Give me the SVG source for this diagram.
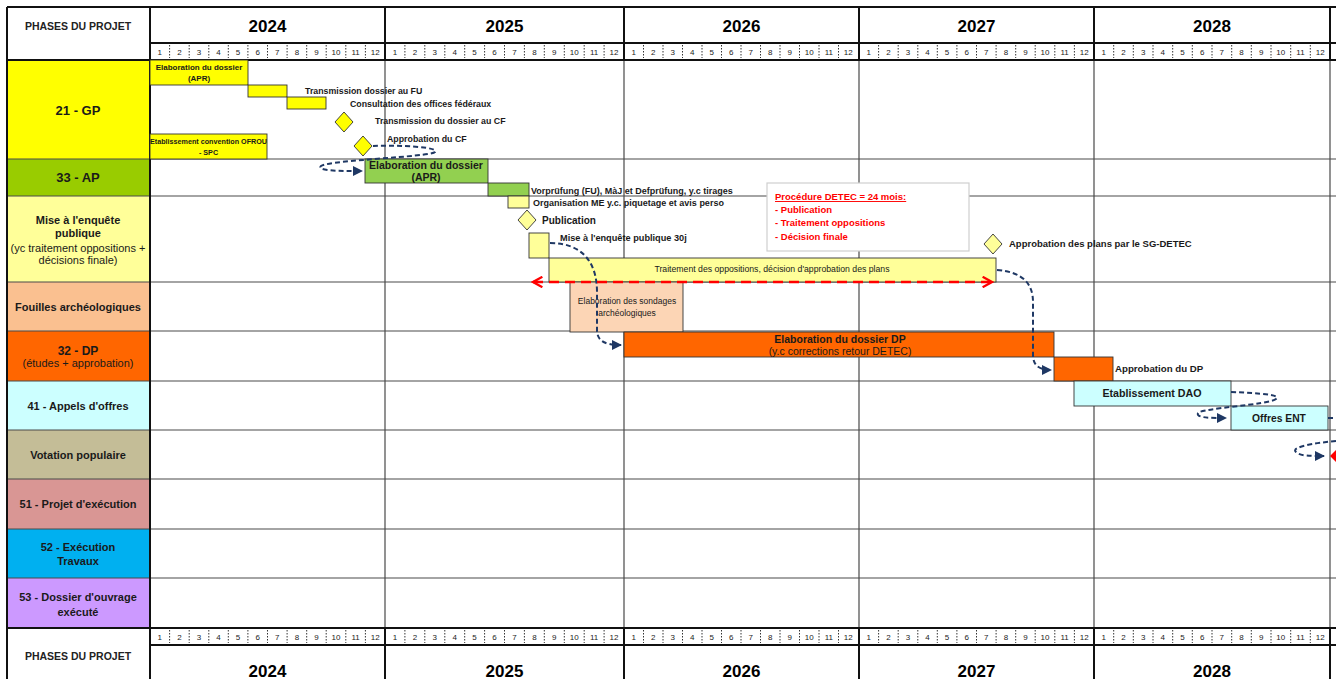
<svg xmlns="http://www.w3.org/2000/svg" width="1336" height="679" viewBox="0 0 1336 679">
<style>
text{font-family:"Liberation Sans",Arial,sans-serif;fill:#1a1a1a}
.lbl{font-size:11px;font-weight:bold;text-anchor:middle}
.big{font-size:13px}
.sub{font-weight:normal}
.yr{font-size:17px;font-weight:bold;text-anchor:middle;fill:#000}
.mo{font-size:8px;text-anchor:middle;fill:#222}
.hd{font-size:10.5px;font-weight:bold;text-anchor:middle;fill:#222}
.bt{font-size:8.8px;font-weight:bold}
.bc{text-anchor:middle}
.red{fill:#FF0000;font-size:9.5px;font-weight:bold}
.grid{stroke:#4a4a4a;stroke-width:1.2;fill:none}
.thick{stroke:#111;stroke-width:2;fill:none}
.sep{stroke:#333;stroke-width:1;stroke-dasharray:1.5 1.5;fill:none}
.bar{stroke:#333;stroke-width:0.9}
.conn{fill:none;stroke:#1F3864;stroke-width:2;stroke-dasharray:5 3}
</style>
<defs>
<marker id="ah" viewBox="0 0 10 10" refX="9" refY="5" markerWidth="5" markerHeight="5" orient="auto" markerUnits="strokeWidth">
<path d="M0,0 L10,5 L0,10 z" fill="#1F3864"/>
</marker>
<marker id="rh" viewBox="0 0 12 12" refX="10" refY="6" markerWidth="5" markerHeight="5" orient="auto-start-reverse" markerUnits="strokeWidth">
<path d="M1,1 L10,6 L1,11" fill="none" stroke="#FF0000" stroke-width="2.2"/>
</marker>
</defs>
<rect width="1336" height="679" fill="#fff"/>

<!-- left column cells -->
<g id="phase-cells">
<rect x="7" y="60" width="143" height="99" fill="#FFFF00"/>
<rect x="7" y="159" width="143" height="37" fill="#99CC00"/>
<rect x="7" y="196" width="143" height="86" fill="#FFFF99"/>
<rect x="7" y="282" width="143" height="49" fill="#FAC090"/>
<rect x="7" y="331" width="143" height="50" fill="#FF6600"/>
<rect x="7" y="381" width="143" height="49" fill="#CCFFFF"/>
<rect x="7" y="430" width="143" height="49" fill="#C4BD97"/>
<rect x="7" y="479" width="143" height="50" fill="#D99694"/>
<rect x="7" y="529" width="143" height="49" fill="#00B0F0"/>
<rect x="7" y="578" width="143" height="50" fill="#CC99FF"/>
</g>

<!-- grid -->
<g id="grid">
<path class="grid" d="M7 159H1336 M7 196H1336 M7 282H1336 M7 331H1336 M7 381H1336 M7 430H1336 M7 479H1336 M7 529H1336 M7 578H1336"/>
<path class="grid" d="M385 60V628 M624 60V628 M859 60V628 M1094 60V628 M1330 60V628"/>
<path class="thick" d="M7 7H1336 M150 43H1336 M7 60H1336 M7 7V679 M150 7V679 M385 7V60 M624 7V60 M859 7V60 M1094 7V60 M1330 7V60"/>
<path class="thick" d="M7 628H1336 M150 645H1336 M385 628V679 M624 628V679 M859 628V679 M1094 628V679 M1330 628V679"/>
<path class="sep" d="M169.6 45v13M189.2 45v13M208.8 45v13M228.3 45v13M247.9 45v13M267.5 45v13M287.1 45v13M306.7 45v13M326.2 45v13M345.8 45v13M365.4 45v13M404.9 45v13M424.8 45v13M444.8 45v13M464.7 45v13M484.6 45v13M504.5 45v13M524.4 45v13M544.3 45v13M564.3 45v13M584.2 45v13M604.1 45v13M643.5 45v13M663 45v13M682.5 45v13M702 45v13M721.5 45v13M741 45v13M760.5 45v13M780 45v13M799.5 45v13M819 45v13M838.5 45v13M878.6 45v13M898.2 45v13M917.8 45v13M937.3 45v13M956.9 45v13M976.5 45v13M996.1 45v13M1015.7 45v13M1035.2 45v13M1054.8 45v13M1074.4 45v13M1113.7 45v13M1133.3 45v13M1153 45v13M1172.7 45v13M1192.3 45v13M1212 45v13M1231.7 45v13M1251.3 45v13M1271 45v13M1290.7 45v13M1310.3 45v13"/>
<path class="sep" d="M169.6 630v13M189.2 630v13M208.8 630v13M228.3 630v13M247.9 630v13M267.5 630v13M287.1 630v13M306.7 630v13M326.2 630v13M345.8 630v13M365.4 630v13M404.9 630v13M424.8 630v13M444.8 630v13M464.7 630v13M484.6 630v13M504.5 630v13M524.4 630v13M544.3 630v13M564.3 630v13M584.2 630v13M604.1 630v13M643.5 630v13M663 630v13M682.5 630v13M702 630v13M721.5 630v13M741 630v13M760.5 630v13M780 630v13M799.5 630v13M819 630v13M838.5 630v13M878.6 630v13M898.2 630v13M917.8 630v13M937.3 630v13M956.9 630v13M976.5 630v13M996.1 630v13M1015.7 630v13M1035.2 630v13M1054.8 630v13M1074.4 630v13M1113.7 630v13M1133.3 630v13M1153 630v13M1172.7 630v13M1192.3 630v13M1212 630v13M1231.7 630v13M1251.3 630v13M1271 630v13M1290.7 630v13M1310.3 630v13"/>
</g>

<!-- header top -->
<g id="header-top">
<text class="hd" x="78" y="30">PHASES DU PROJET</text>
<text class="yr" x="267.5" y="32">2024</text>
<text class="yr" x="504.5" y="32">2025</text>
<text class="yr" x="741.5" y="32">2026</text>
<text class="yr" x="976.5" y="32">2027</text>
<text class="yr" x="1212" y="32">2028</text>
<text class="mo" x="159.8" y="55">1</text><text class="mo" x="179.4" y="55">2</text><text class="mo" x="199" y="55">3</text><text class="mo" x="218.5" y="55">4</text><text class="mo" x="238.1" y="55">5</text><text class="mo" x="257.7" y="55">6</text><text class="mo" x="277.3" y="55">7</text><text class="mo" x="296.9" y="55">8</text><text class="mo" x="316.5" y="55">9</text><text class="mo" x="336" y="55">10</text><text class="mo" x="355.6" y="55">11</text><text class="mo" x="375.2" y="55">12</text>
<text class="mo" x="395" y="55">1</text><text class="mo" x="414.9" y="55">2</text><text class="mo" x="434.8" y="55">3</text><text class="mo" x="454.7" y="55">4</text><text class="mo" x="474.6" y="55">5</text><text class="mo" x="494.6" y="55">6</text><text class="mo" x="514.5" y="55">7</text><text class="mo" x="534.4" y="55">8</text><text class="mo" x="554.3" y="55">9</text><text class="mo" x="574.2" y="55">10</text><text class="mo" x="594.1" y="55">11</text><text class="mo" x="614" y="55">12</text>
<text class="mo" x="633.8" y="55">1</text><text class="mo" x="653.3" y="55">2</text><text class="mo" x="672.8" y="55">3</text><text class="mo" x="692.3" y="55">4</text><text class="mo" x="711.8" y="55">5</text><text class="mo" x="731.3" y="55">6</text><text class="mo" x="750.8" y="55">7</text><text class="mo" x="770.3" y="55">8</text><text class="mo" x="789.8" y="55">9</text><text class="mo" x="809.3" y="55">10</text><text class="mo" x="828.8" y="55">11</text><text class="mo" x="848.3" y="55">12</text>
<text class="mo" x="868.8" y="55">1</text><text class="mo" x="888.4" y="55">2</text><text class="mo" x="908" y="55">3</text><text class="mo" x="927.5" y="55">4</text><text class="mo" x="947.1" y="55">5</text><text class="mo" x="966.7" y="55">6</text><text class="mo" x="986.3" y="55">7</text><text class="mo" x="1005.9" y="55">8</text><text class="mo" x="1025.4" y="55">9</text><text class="mo" x="1045" y="55">10</text><text class="mo" x="1064.6" y="55">11</text><text class="mo" x="1084.2" y="55">12</text>
<text class="mo" x="1103.8" y="55">1</text><text class="mo" x="1123.5" y="55">2</text><text class="mo" x="1143.2" y="55">3</text><text class="mo" x="1162.8" y="55">4</text><text class="mo" x="1182.5" y="55">5</text><text class="mo" x="1202.2" y="55">6</text><text class="mo" x="1221.8" y="55">7</text><text class="mo" x="1241.5" y="55">8</text><text class="mo" x="1261.2" y="55">9</text><text class="mo" x="1280.8" y="55">10</text><text class="mo" x="1300.5" y="55">11</text><text class="mo" x="1320.2" y="55">12</text>
</g>

<!-- header bottom -->
<g id="header-bottom">
<text class="hd" x="78" y="660">PHASES DU PROJET</text>
<text class="yr" x="267.5" y="677">2024</text>
<text class="yr" x="504.5" y="677">2025</text>
<text class="yr" x="741.5" y="677">2026</text>
<text class="yr" x="976.5" y="677">2027</text>
<text class="yr" x="1212" y="677">2028</text>
<text class="mo" x="159.8" y="640">1</text><text class="mo" x="179.4" y="640">2</text><text class="mo" x="199" y="640">3</text><text class="mo" x="218.5" y="640">4</text><text class="mo" x="238.1" y="640">5</text><text class="mo" x="257.7" y="640">6</text><text class="mo" x="277.3" y="640">7</text><text class="mo" x="296.9" y="640">8</text><text class="mo" x="316.5" y="640">9</text><text class="mo" x="336" y="640">10</text><text class="mo" x="355.6" y="640">11</text><text class="mo" x="375.2" y="640">12</text>
<text class="mo" x="395" y="640">1</text><text class="mo" x="414.9" y="640">2</text><text class="mo" x="434.8" y="640">3</text><text class="mo" x="454.7" y="640">4</text><text class="mo" x="474.6" y="640">5</text><text class="mo" x="494.6" y="640">6</text><text class="mo" x="514.5" y="640">7</text><text class="mo" x="534.4" y="640">8</text><text class="mo" x="554.3" y="640">9</text><text class="mo" x="574.2" y="640">10</text><text class="mo" x="594.1" y="640">11</text><text class="mo" x="614" y="640">12</text>
<text class="mo" x="633.8" y="640">1</text><text class="mo" x="653.3" y="640">2</text><text class="mo" x="672.8" y="640">3</text><text class="mo" x="692.3" y="640">4</text><text class="mo" x="711.8" y="640">5</text><text class="mo" x="731.3" y="640">6</text><text class="mo" x="750.8" y="640">7</text><text class="mo" x="770.3" y="640">8</text><text class="mo" x="789.8" y="640">9</text><text class="mo" x="809.3" y="640">10</text><text class="mo" x="828.8" y="640">11</text><text class="mo" x="848.3" y="640">12</text>
<text class="mo" x="868.8" y="640">1</text><text class="mo" x="888.4" y="640">2</text><text class="mo" x="908" y="640">3</text><text class="mo" x="927.5" y="640">4</text><text class="mo" x="947.1" y="640">5</text><text class="mo" x="966.7" y="640">6</text><text class="mo" x="986.3" y="640">7</text><text class="mo" x="1005.9" y="640">8</text><text class="mo" x="1025.4" y="640">9</text><text class="mo" x="1045" y="640">10</text><text class="mo" x="1064.6" y="640">11</text><text class="mo" x="1084.2" y="640">12</text>
<text class="mo" x="1103.8" y="640">1</text><text class="mo" x="1123.5" y="640">2</text><text class="mo" x="1143.2" y="640">3</text><text class="mo" x="1162.8" y="640">4</text><text class="mo" x="1182.5" y="640">5</text><text class="mo" x="1202.2" y="640">6</text><text class="mo" x="1221.8" y="640">7</text><text class="mo" x="1241.5" y="640">8</text><text class="mo" x="1261.2" y="640">9</text><text class="mo" x="1280.8" y="640">10</text><text class="mo" x="1300.5" y="640">11</text><text class="mo" x="1320.2" y="640">12</text>
</g>

<!-- phase labels -->
<g id="phase-labels">
<text class="lbl big" x="78" y="115">21 - GP</text>
<text class="lbl big" x="78" y="182">33 - AP</text>
<text class="lbl" x="78" y="224">Mise à l'enquête</text>
<text class="lbl" x="78" y="237">publique</text>
<text class="lbl sub" x="78" y="252">(yc traitement oppositions +</text>
<text class="lbl sub" x="78" y="264">décisions finale)</text>
<text class="lbl" x="78" y="311">Fouilles archéologiques</text>
<text class="lbl" x="78" y="355" style="font-size:12px">32 - DP</text>
<text class="lbl sub" x="78" y="367">(études + approbation)</text>
<text class="lbl" x="78" y="410">41 - Appels d'offres</text>
<text class="lbl" x="78" y="459">Votation populaire</text>
<text class="lbl" x="78" y="508">51 - Projet d'exécution</text>
<text class="lbl" x="78" y="551">52 - Exécution</text>
<text class="lbl" x="78" y="565">Travaux</text>
<text class="lbl" x="78" y="601">53 - Dossier d'ouvrage</text>
<text class="lbl" x="78" y="616">exécuté</text>
</g>

<!-- note box -->
<g id="note-detec">
<rect x="767" y="183" width="202" height="68" fill="#fff" stroke="#cfcfcf" stroke-width="1.2"/>
<text class="red" x="775" y="200" text-decoration="underline">Procédure DETEC = 24 mois:</text>
<text class="red" x="775" y="213">- Publication</text>
<text class="red" x="775" y="226">- Traitement oppositions</text>
<text class="red" x="775" y="240">- Décision finale</text>
</g>

<!-- GP -->
<g id="gp-elaboration"><rect class="bar" x="150" y="60" width="98" height="25" fill="#FFFF00"/>
<text class="bt bc" x="199" y="70" style="font-size:8px">Elaboration du dossier</text><text class="bt bc" x="199" y="81" style="font-size:8px">(APR)</text></g>
<g id="gp-transmission-fu"><rect class="bar" x="248" y="85" width="39" height="12" fill="#FFFF00"/>
<text class="bt" x="305" y="94">Transmission dossier au FU</text></g>
<g id="gp-consultation"><rect class="bar" x="287" y="97" width="39" height="12" fill="#FFFF00"/>
<text class="bt" x="350" y="107">Consultation  des offices fédéraux</text></g>
<g id="gp-transmission-cf"><polygon class="bar" points="344,112 353,122 344,132 335,122" fill="#FFFF00"/>
<text class="bt" x="375" y="124">Transmission du dossier au CF</text></g>
<g id="gp-approbation-cf"><polygon class="bar" points="363,136 372,146 363,156 354,146" fill="#FFFF00"/>
<text class="bt" x="387" y="142">Approbation  du CF</text></g>
<g id="gp-convention"><rect class="bar" x="150" y="134" width="117" height="25" fill="#FFFF00"/>
<text class="bt bc" x="208.5" y="144" style="font-size:7.2px">Etablissement convention OFROU</text><text class="bt bc" x="208.5" y="155" style="font-size:7.2px">- SPC</text></g>

<!-- AP -->
<g id="ap-elaboration"><rect class="bar" x="365" y="159" width="123" height="24" fill="#92D050"/>
<text class="bt bc" x="426" y="169" style="font-size:10.5px">Elaboration du dossier</text><text class="bt bc" x="426" y="181" style="font-size:10.5px">(APR)</text></g>
<g id="ap-vorpruefung"><rect class="bar" x="488" y="183" width="41" height="13" fill="#92D050"/>
<text class="bt" x="531" y="194" style="font-size:9px">Vorprüfung (FU), MàJ et Defprüfung, y.c tirages</text></g>

<!-- Enquête -->
<g id="me-organisation"><rect class="bar" x="508" y="196" width="21" height="12" fill="#FFFF99"/>
<text class="bt" x="533" y="206" style="font-size:9px">Organisation  ME y.c. piquetage et avis perso</text></g>
<g id="me-publication"><polygon class="bar" points="527,210 536,220 527,230 518,220" fill="#FFFF99"/>
<text class="bt" x="542" y="224" style="font-size:10px">Publication</text></g>
<g id="me-mise"><rect class="bar" x="529" y="233" width="20" height="25" fill="#FFFF99"/>
<text class="bt" x="560" y="241" style="font-size:9.2px">Mise à l'enquête publique 30j</text></g>
<g id="me-traitement"><rect class="bar" x="549" y="258" width="447" height="24" fill="#FFFF99"/>
<text class="bc" x="772" y="272" style="font-size:8.7px">Traitement des oppositions, décision d'approbation des plans</text></g>
<g id="me-approbation-sg"><polygon class="bar" points="993,234 1002,244 993,254 984,244" fill="#FFFF99"/>
<text class="bt" x="1009" y="247" style="font-size:9.5px">Approbation des plans par le SG-DETEC</text></g>

<!-- Fouilles -->
<g id="fouilles-sondages"><rect class="bar" x="570" y="282" width="113" height="50" fill="#FCD5B5"/>
<text class="bc" x="627" y="304" style="font-size:8.5px">Elaboration des sondages</text><text class="bc" x="627" y="316" style="font-size:8.5px">archéologiques</text></g>

<!-- DP -->
<g id="dp-elaboration"><rect class="bar" x="624" y="332" width="430" height="25" fill="#FF6600"/>
<text class="bc" x="840" y="343" style="font-size:10.5px;font-weight:bold">Elaboration du dossier DP</text><text class="bc" x="840" y="355" style="font-size:10.5px">(y.c corrections retour DETEC)</text></g>
<g id="dp-approbation"><rect class="bar" x="1054" y="357" width="59" height="24" fill="#FF6600"/>
<text class="bt" x="1115" y="372" style="font-size:9.7px">Approbation du DP</text></g>

<!-- Appels d'offres -->
<g id="ao-dao"><rect class="bar" x="1074" y="381" width="157" height="25" fill="#CCFFFF"/>
<text class="bt bc" x="1152" y="397" style="font-size:10.7px">Etablissement  DAO</text></g>
<g id="ao-offres"><rect class="bar" x="1231" y="406" width="97" height="24" fill="#CCFFFF"/>
<text class="bt bc" x="1279" y="422" style="font-size:10.3px">Offres ENT</text></g>

<!-- Votation (partially visible) -->
<g id="votation-milestone"><polygon points="1338,448 1346,456 1338,464 1330,456" fill="#FF0000"/></g>

<!-- connectors -->
<g id="connectors">
<path class="conn" d="M373,146 C400,145 440,147 435,152 C430,157 330,160 321,166 C316,171 340,171 362,171" marker-end="url(#ah)"/>
<path class="conn" d="M550,243 C582,243 597,262 597,292 L597,330 C597,341 605,345 621,345" marker-end="url(#ah)"/>
<path class="conn" d="M997,270 C1024,272 1033,285 1033,302 L1033,355 C1033,366 1040,370 1051,370" marker-end="url(#ah)"/>
<path class="conn" d="M1231,392 C1260,393 1282,395 1276,399 C1268,405 1202,408 1198,413 C1196,418 1210,418 1226,418" marker-end="url(#ah)"/>
<path class="conn" d="M1328,418 L1336,418"/>
<path class="conn" d="M1336,441 C1315,443 1290,447 1296,452 C1300,456 1310,456 1324,456" marker-end="url(#ah)"/>
<line x1="533" y1="282" x2="992" y2="282" stroke="#FF0000" stroke-width="2.5" stroke-dasharray="10 6" marker-start="url(#rh)" marker-end="url(#rh)"/>
</g>
</svg>
